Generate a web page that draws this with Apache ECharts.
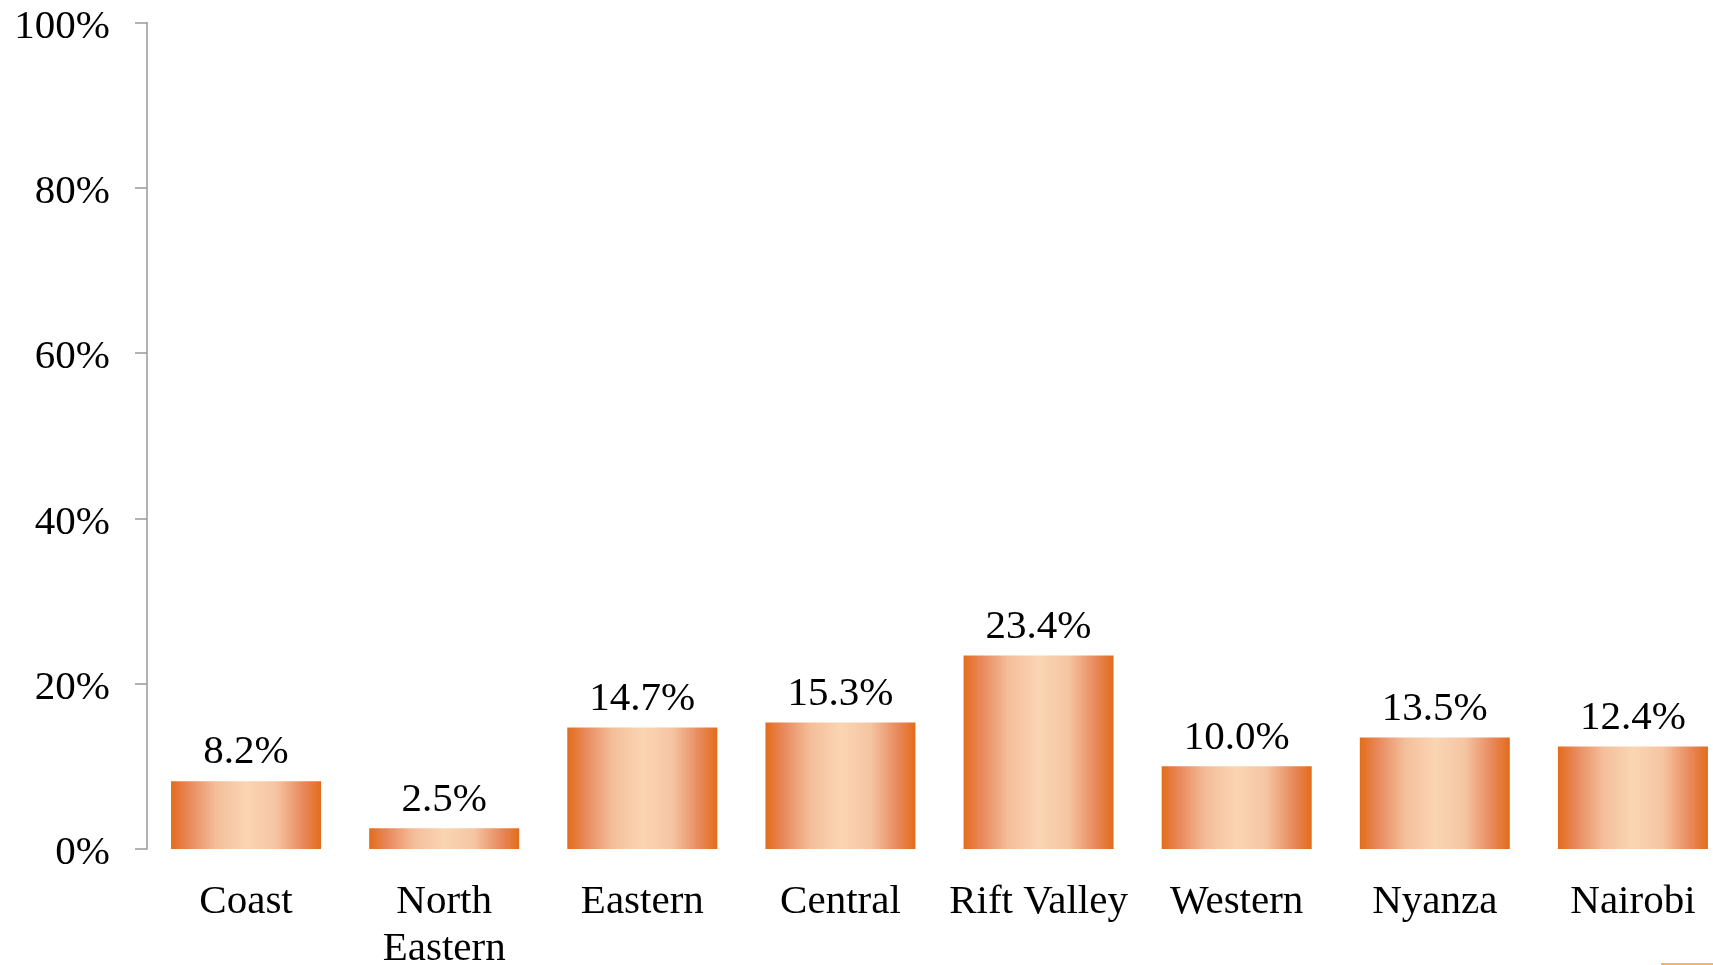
<!DOCTYPE html>
<html>
<head>
<meta charset="utf-8">
<script src="https://cdn.jsdelivr.net/npm/echarts@6/dist/echarts.min.js"></script>
<style>
html,body{margin:0;padding:0;background:#fff;}
#chart{width:1713px;height:965px;}
</style>
</head>
<body>
<div id="chart"></div>
<script>
const categories = ['Coast', 'North\nEastern', 'Eastern', 'Central', 'Rift Valley', 'Western', 'Nyanza', 'Nairobi'];
const values = [8.2, 2.5, 14.7, 15.3, 23.4, 10.0, 13.5, 12.4];
const yTicks = [0, 20, 40, 60, 80, 100];

const FONT = 'Liberation Serif';
const chart = echarts.init(document.getElementById('chart'), null, {renderer: 'canvas'});

const barGradient = new echarts.graphic.LinearGradient(0, 0, 1, 0, [
  {offset: 0, color: '#E36C1A'},
  {offset: 0.12, color: '#E8895C'},
  {offset: 0.3, color: '#F4BE9A'},
  {offset: 0.5, color: '#FAD5B4'},
  {offset: 0.7, color: '#F5C5A2'},
  {offset: 0.88, color: '#E8895C'},
  {offset: 1, color: '#E36C1A'}
]);

chart.setOption({
  animation: false,
  backgroundColor: '#ffffff',
  grid: {left: 147, top: 22.5, right: -19, bottom: 116, containLabel: false, outerBoundsMode: 'none'},
  xAxis: {
    type: 'category',
    data: categories,
    axisLine: {show: false},
    axisTick: {show: false},
    axisLabel: {
      color: '#000', fontFamily: FONT, fontSize: 41, margin: 30, lineHeight: 47, interval: 0
    }
  },
  yAxis: {
    type: 'value',
    min: 0, max: 100, interval: 20,
    axisLine: {show: true, lineStyle: {color: '#999999', width: 1.5}},
    axisTick: {show: true, inside: false, length: 12, lineStyle: {color: '#999999', width: 1.5}},
    splitLine: {show: false},
    axisLabel: {
      color: '#000', fontFamily: FONT, fontSize: 41, margin: 37,
      verticalAlign: 'top', lineHeight: 9,
      formatter: v => yTicks.includes(v) ? v + '%' : ''
    }
  },
  series: [{
    type: 'bar',
    data: values,
    barWidth: 150,
    itemStyle: {color: barGradient},
    label: {
      show: true, position: 'top', distance: 8,
      color: '#000', fontFamily: FONT, fontSize: 41,
      formatter: p => p.value.toFixed(1) + '%'
    }
  }],
  graphic: [{
    type: 'rect', left: 1661, top: 963, shape: {width: 52, height: 2},
    style: {fill: '#F8B36A'}, silent: true
  }]
});
</script>
</body>
</html>
